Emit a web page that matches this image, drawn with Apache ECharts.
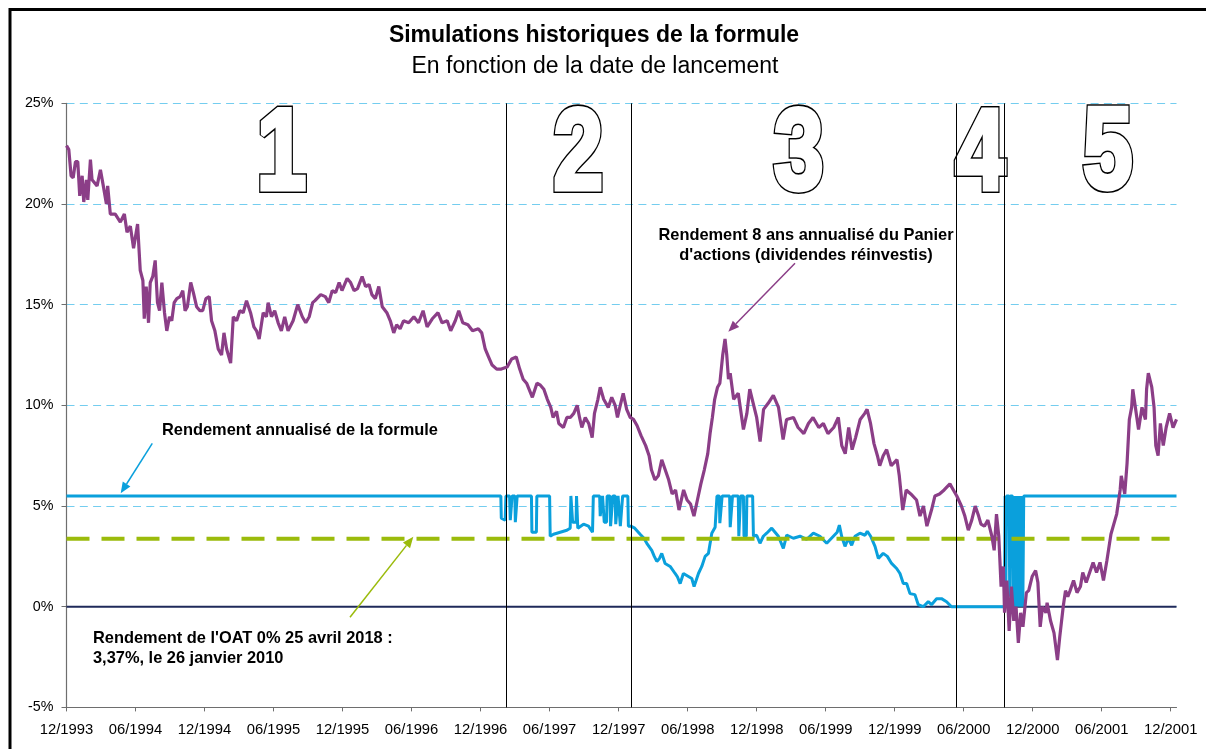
<!DOCTYPE html>
<html><head><meta charset="utf-8">
<script src="https://cdn.jsdelivr.net/npm/echarts@6/dist/echarts.min.js"></script>
<style>html,body{margin:0;padding:0;background:#fff}#c{width:1206px;height:749px}</style>
</head><body><div id="c"></div>
<script>
// ---- DATA ----
const xTickMonths = [0,6,12,18,24,30,36,42,48,54,60,66,72,78,84,90,96];
const xTickLabels = ['12/1993','06/1994','12/1994','06/1995','12/1995','06/1996','12/1996','06/1997','12/1997','06/1998','12/1998','06/1999','12/1999','06/2000','12/2000','06/2001','12/2001'];
const yTicks = [-5,0,5,10,15,20,25];
const regionBounds = [38.2, 49.09, 77.38, 81.52];
const regionLabels = ['1','2','3','4','5'];
const oatRate = 3.37;
const zeroLevel = 0;
const stockSeries = [[0.0,22.9],[0.2,22.7],[0.4,21.4],[0.58,21.3],[0.78,22.1],[0.98,22.1],[1.15,20.4],[1.36,21.4],[1.5,20.1],[1.73,21.2],[1.85,20.2],[2.08,22.2],[2.22,21.2],[2.66,20.9],[2.95,21.7],[3.23,20.8],[3.47,20.0],[3.58,20.9],[3.81,19.5],[4.24,19.5],[4.68,19.1],[5.03,19.5],[5.26,18.6],[5.55,18.9],[5.83,17.8],[6.18,19.0],[6.41,16.7],[6.64,16.2],[6.76,14.3],[6.93,15.9],[7.13,14.1],[7.28,16.1],[7.5,16.4],[7.71,17.2],[7.91,15.1],[8.09,14.7],[8.29,16.1],[8.52,14.6],[8.72,13.7],[8.95,14.4],[9.15,14.2],[9.36,15.1],[9.59,15.3],[9.88,15.4],[10.11,15.7],[10.31,14.7],[10.51,14.9],[10.8,16.1],[11.03,15.6],[11.31,14.9],[11.6,14.7],[11.84,14.7],[12.12,15.3],[12.41,15.4],[12.61,14.2],[12.9,13.7],[13.19,12.8],[13.48,12.5],[13.69,13.6],[13.92,12.8],[14.27,12.1],[14.5,14.4],[14.79,14.2],[15.07,14.7],[15.36,14.6],[15.65,15.2],[16.0,14.6],[16.29,13.9],[16.52,13.7],[16.75,13.3],[17.1,14.6],[17.38,14.4],[17.53,15.1],[17.82,14.4],[18.1,14.7],[18.4,14.1],[18.68,13.7],[18.97,14.4],[19.26,13.7],[19.7,14.2],[20.1,15.0],[20.5,14.4],[20.8,14.1],[21.1,14.4],[21.4,15.1],[21.6,15.2],[22.1,15.5],[22.5,15.4],[22.8,15.1],[23.1,15.7],[23.4,15.6],[23.7,16.1],[23.95,15.7],[24.4,16.3],[24.7,16.1],[25.0,15.7],[25.3,15.8],[25.7,16.4],[26.0,15.9],[26.3,16.0],[26.55,15.5],[26.85,15.3],[27.15,15.9],[27.45,14.9],[27.85,14.6],[28.15,14.2],[28.45,13.6],[28.7,14.0],[29.0,13.8],[29.3,14.2],[29.75,14.1],[30.2,14.4],[30.6,14.1],[31.0,14.7],[31.35,13.9],[31.8,14.3],[32.3,14.6],[32.65,14.1],[33.1,14.2],[33.4,13.7],[33.8,14.2],[34.1,14.7],[34.45,14.1],[34.9,14.0],[35.3,13.7],[35.8,13.8],[36.1,13.6],[36.4,12.8],[36.7,12.4],[37.0,12.0],[37.4,11.8],[37.8,11.8],[38.3,11.9],[38.7,12.3],[39.1,12.4],[39.4,11.8],[39.7,11.3],[40.0,11.1],[40.5,10.4],[40.9,11.1],[41.2,11.0],[41.5,10.8],[41.8,10.3],[42.1,9.9],[42.3,9.4],[42.6,9.7],[42.8,9.1],[43.2,8.9],[43.5,9.4],[43.8,9.4],[44.1,9.6],[44.4,10.0],[44.6,9.4],[44.8,8.9],[45.1,9.4],[45.4,9.1],[45.7,8.4],[45.9,9.6],[46.2,10.3],[46.4,10.9],[46.7,10.3],[47.1,9.9],[47.4,10.4],[47.7,10.0],[47.9,9.4],[48.1,9.9],[48.4,10.6],[48.7,9.8],[49.0,9.4],[49.3,9.3],[49.6,9.0],[49.95,8.5],[50.35,8.0],[50.65,7.5],[50.85,6.8],[51.15,6.3],[51.45,6.5],[51.75,7.3],[52.05,6.8],[52.35,6.3],[52.65,5.6],[52.95,5.8],[53.25,4.8],[53.65,5.8],[53.95,5.3],[54.25,5.1],[54.55,4.5],[54.85,5.3],[55.15,6.1],[55.45,6.8],[55.75,7.6],[55.95,8.6],[56.15,9.4],[56.35,10.3],[56.6,10.9],[56.8,11.1],[57.05,12.5],[57.25,13.3],[57.4,12.5],[57.55,11.3],[57.7,11.6],[58.0,10.3],[58.4,10.6],[58.85,8.8],[59.15,9.6],[59.4,10.8],[59.7,10.1],[60.0,9.4],[60.3,8.2],[60.6,9.8],[61.0,10.1],[61.45,10.5],[61.9,9.9],[62.3,8.3],[62.6,9.3],[63.2,9.4],[63.6,8.9],[64.1,8.6],[64.5,9.1],[64.9,9.4],[65.4,8.9],[65.8,9.1],[66.2,8.6],[66.7,8.9],[67.1,9.4],[67.4,8.0],[67.7,7.6],[68.0,8.9],[68.3,7.8],[68.6,8.4],[69.0,9.3],[69.4,9.6],[69.6,9.8],[69.9,9.1],[70.2,8.1],[70.5,7.5],[70.7,7.0],[71.0,7.5],[71.3,7.8],[71.7,7.0],[72.2,7.3],[72.4,6.5],[72.7,4.8],[73.0,5.8],[73.4,5.6],[73.9,5.3],[74.2,4.5],[74.5,5.0],[74.8,4.0],[75.2,4.8],[75.5,5.5],[75.9,5.6],[76.3,5.8],[76.8,6.1],[77.1,5.8],[77.4,5.5],[77.8,5.0],[78.1,4.5],[78.4,3.8],[78.7,4.3],[79.0,5.0],[79.3,4.5],[79.5,4.1],[79.8,4.0],[80.1,4.3],[80.45,3.5],[80.65,2.8],[80.85,4.6],[81.05,3.5],[81.25,1.0],[81.45,2.0],[81.55,-0.3],[81.75,1.3],[81.95,-1.2],[82.15,1.0],[82.35,-0.7],[82.55,0.0],[82.75,-1.8],[82.95,-0.3],[83.15,-1.0],[83.45,0.7],[83.65,0.8],[83.95,1.5],[84.25,1.8],[84.45,1.2],[84.65,-1.0],[84.85,0.0],[85.15,-0.3],[85.25,0.2],[85.55,-0.7],[85.85,-1.3],[86.15,-2.65],[86.35,-1.5],[86.65,0.0],[86.85,0.8],[87.05,0.5],[87.25,0.8],[87.55,1.3],[87.85,0.7],[88.15,1.0],[88.35,1.7],[88.65,1.2],[88.95,1.7],[89.25,2.2],[89.55,1.7],[89.85,2.2],[90.15,1.3],[90.45,2.3],[90.8,3.6],[91.0,4.0],[91.3,4.6],[91.6,5.8],[91.7,6.5],[92.0,5.6],[92.2,7.1],[92.4,9.3],[92.6,9.9],[92.7,10.8],[93.0,9.6],[93.2,8.8],[93.5,9.9],[93.8,9.3],[93.9,10.8],[94.05,11.6],[94.35,10.9],[94.55,9.9],[94.7,8.0],[94.9,7.5],[95.1,9.1],[95.35,8.0],[95.6,8.9],[95.9,9.6],[96.2,8.9],[96.5,9.3]];
const formulaSeries = [[0,5.5],[37.76,5.5],[37.8,4.4],[38.14,4.3],[38.2,5.5],[38.52,5.5],[38.58,4.3],[38.7,4.3],[38.74,5.5],[38.98,5.5],[39.02,4.2],[39.14,4.2],[39.18,5.5],[40.42,5.5],[40.46,3.7],[40.85,3.7],[40.89,5.5],[42.0,5.5],[42.05,3.5],[42.34,3.6],[42.92,3.7],[43.5,3.8],[43.79,3.9],[43.85,5.5],[43.95,5.5],[44.0,4.2],[44.3,4.2],[44.34,5.5],[44.4,5.5],[44.45,3.9],[44.95,4.1],[45.38,4.0],[45.73,3.7],[45.8,5.5],[46.35,5.5],[46.4,4.5],[46.55,4.5],[46.6,5.5],[46.7,5.5],[46.75,4.2],[46.95,4.2],[47.0,5.5],[47.25,5.5],[47.3,4.0],[47.45,4.0],[47.5,5.5],[47.7,5.5],[47.75,4.1],[47.9,4.1],[47.95,5.5],[48.1,5.5],[48.15,4.0],[48.3,4.0],[48.35,5.5],[48.8,5.5],[48.85,4.0],[49.06,4.0],[49.4,3.9],[49.87,3.6],[50.2,3.4],[50.45,3.15],[50.88,2.8],[51.1,2.5],[51.32,2.25],[51.55,2.4],[51.75,2.65],[52.04,2.15],[52.48,2.0],[52.91,1.65],[53.1,1.5],[53.35,1.15],[53.63,1.65],[54.07,1.5],[54.36,1.4],[54.56,1.0],[54.94,1.65],[55.23,2.0],[55.52,2.5],[55.81,2.65],[56.1,3.65],[56.39,3.95],[56.5,3.95],[56.55,5.5],[56.75,5.5],[56.8,4.15],[56.95,4.15],[57.0,5.5],[57.65,5.5],[57.7,3.95],[57.85,3.95],[57.9,5.5],[58.4,5.5],[58.45,3.5],[58.55,3.5],[58.6,5.5],[58.85,5.5],[58.9,3.5],[59.1,3.5],[59.15,5.5],[59.65,5.5],[59.72,3.5],[60.0,3.55],[60.29,3.15],[60.58,3.5],[60.87,3.65],[61.31,3.9],[61.6,3.7],[61.89,3.5],[62.03,3.3],[62.32,2.9],[62.61,3.55],[63.19,3.4],[63.77,3.5],[64.35,3.35],[64.93,3.65],[65.5,3.5],[66.09,3.15],[66.67,3.5],[67.0,3.7],[67.19,4.05],[67.39,3.5],[67.68,3.0],[67.97,3.4],[68.26,3.05],[68.55,3.5],[68.98,3.65],[69.42,3.55],[69.62,3.75],[69.91,3.5],[70.29,3.0],[70.58,2.4],[71.0,2.65],[71.36,2.5],[71.73,2.15],[72.17,1.9],[72.46,1.65],[72.75,1.15],[73.04,1.15],[73.33,0.65],[73.76,0.6],[74.05,0.1],[74.48,0.0],[74.92,0.25],[75.2,0.1],[75.64,0.4],[76.07,0.4],[76.51,0.25],[76.94,0.0],[81.55,0.0],[81.6,5.5],[81.66,0.5],[81.72,5.5],[81.95,5.5],[82.0,0.5],[82.06,5.5],[82.24,5.5],[82.3,0],[82.36,5.5],[82.42,0],[82.48,5.5],[82.54,0],[82.6,5.5],[82.66,0],[82.72,5.5],[82.78,0],[82.84,5.5],[82.9,0],[82.96,5.5],[83.02,0],[83.08,5.5],[83.14,0],[83.22,5.5],[96.5,5.5]];

// ---- CHART ----
const FONT = '"Liberation Sans", Arial, sans-serif';
const chart = echarts.init(document.getElementById('c'), null, {renderer:'canvas'});

function arrow(x1,y1,x2,y2,color){
  const dx=x2-x1, dy=y2-y1, L=Math.hypot(dx,dy), ux=dx/L, uy=dy/L;
  const hl=11, hw=4.5, bx=x2-ux*hl, by=y2-uy*hl;
  return [
    {type:'line', z:100, shape:{x1:x1,y1:y1,x2:bx,y2:by}, style:{stroke:color,lineWidth:1.5}},
    {type:'polygon', z:100, shape:{points:[[x2,y2],[bx-uy*hw,by+ux*hw],[bx+uy*hw,by-ux*hw]]}, style:{fill:color}}
  ];
}
function txt(text,x,y,font,align,extra){
  return {type:'text', z:100, style:Object.assign({text:text,x:x,y:y,font:font,fill:'#000',
    align:align,textAlign:align,verticalAlign:'middle',textVerticalAlign:'middle'}, extra||{})};
}
// big outlined region numbers (layout only)
const digitX = [283, 578, 798, 981, 1108];
function digitGraphics(){
  const cv=document.createElement('canvas').getContext('2d');
  const base=100, fam='"Liberation Sans", Arial, sans-serif';
  cv.font='bold '+base+'px '+fam; cv.textBaseline='middle'; cv.textAlign='center';
  const W=5, O=1.6, targetH=88.5, targetW=50, centerY=149;
  const m2=cv.measureText('2');
  const inkH=m2.actualBoundingBoxAscent+m2.actualBoundingBoxDescent;
  const F=base*(targetH-W-2*O)/inkH, k=F/base;
  const sx=targetW/((m2.actualBoundingBoxLeft+m2.actualBoundingBoxRight)*k+W+2*O);
  const font='bold '+F.toFixed(2)+'px '+fam;
  const out=[];
  regionLabels.forEach((d,i)=>{
    const m=cv.measureText(d);
    const offY=(m.actualBoundingBoxAscent-m.actualBoundingBoxDescent)/2*k;
    const offX=(m.actualBoundingBoxRight-m.actualBoundingBoxLeft)/2*k*sx;
    const x=digitX[i]-offX, y=centerY+offY;
    const common={text:d,x:0,y:0,font:font,align:'center',textAlign:'center',verticalAlign:'middle',textVerticalAlign:'middle',lineJoin:'miter',miterLimit:2};
    out.push({type:'text', z:1, x:x, y:y, scaleX:sx, style:Object.assign({fill:'#000',stroke:'#000',lineWidth:W+2*O},common)});
    out.push({type:'text', z:2, x:x, y:y, scaleX:sx, style:Object.assign({fill:'#fff',stroke:'#fff',lineWidth:W},common)});
  });
  return out;
}

const graphics = [
  {type:'rect', z:100, shape:{x:10,y:9.5,width:1400,height:900}, style:{fill:'none',stroke:'#000',lineWidth:3}},
  txt('Simulations historiques de la formule', 594, 35.5, 'bold 23px '+FONT, 'center'),
  txt('En fonction de la date de lancement', 595, 66.5, '23px '+FONT, 'center'),
  txt("Rendement 8 ans annualisé du Panier\nd'actions (dividendes réinvestis)", 806, 245.5, 'bold 16.4px '+FONT, 'center', {lineHeight:20}),
  txt('Rendement annualisé de la formule', 162, 430, 'bold 16.4px '+FONT, 'left'),
  txt("Rendement de l'OAT 0% 25 avril 2018 :\n3,37%, le 26 janvier 2010", 93, 648.5, 'bold 16.4px '+FONT, 'left', {lineHeight:20})
].concat(arrow(795,263.3,728.3,331.7,'#8B3E87'))
 .concat(arrow(152.3,443.3,120.7,493.3,'#0AA0DC'))
 .concat(arrow(350,617.3,413.3,536.7,'#9BBB0B'))
 .concat(digitGraphics());

chart.setOption({
  animation:false,
  backgroundColor:'#fff',
  grid:{left:66.5, top:103.3, width:1110, height:604.1, containLabel:false},
  xAxis:{type:'value', min:0, max:96.5,
    axisLine:{show:true, onZero:false, lineStyle:{color:'#6e6e6e', width:1.2}},
    axisTick:{show:true, length:4, inside:false, customValues:xTickMonths, lineStyle:{color:'#6e6e6e'}},
    axisLabel:{show:true, customValues:xTickMonths, margin:15, fontSize:14.8, fontFamily:FONT, color:'#000',
      formatter:v=>{const i=xTickMonths.indexOf(Math.round(v)); return i>=0?xTickLabels[i]:'';}},
    splitLine:{show:false}},
  yAxis:{type:'value', min:yTicks[0], max:yTicks[yTicks.length-1], interval:5,
    axisLine:{show:true, lineStyle:{color:'#6e6e6e', width:1.2}},
    axisTick:{show:true, length:5, lineStyle:{color:'#6e6e6e'}},
    axisLabel:{formatter:'{value}%', margin:13, fontSize:14.3, fontFamily:FONT, color:'#000'},
    splitLine:{show:true, lineStyle:{color:'#74CDEF', width:1, type:[8,5.3]}}},
  series:[
    {type:'line', name:'zero', z:2, symbol:'none', silent:true,
     data:[[0,zeroLevel],[96.5,zeroLevel]], lineStyle:{color:'#1F2A5A', width:2}},
    {type:'line', name:'formule', z:3, symbol:'none', silent:true,
     data:formulaSeries, lineStyle:{color:'#0AA0DC', width:3}},
    {type:'line', name:'OAT', z:4, symbol:'none', silent:true,
     data:[[0,oatRate],[95.9,oatRate]], lineStyle:{color:'#9BBB0B', width:4, type:[23,12]}},
    {type:'line', name:'panier', z:5, symbol:'none', silent:true,
     data:stockSeries, lineStyle:{color:'#8B3E87', width:3.2}},
    {type:'line', name:'bounds', z:8, symbol:'none', silent:true, data:[],
     markLine:{silent:true, symbol:['none','none'], label:{show:false},
       lineStyle:{color:'#000', width:1, type:'solid'},
       data:regionBounds.map(v=>({xAxis:v}))}}
  ],
  graphic:graphics
});
</script></body></html>
